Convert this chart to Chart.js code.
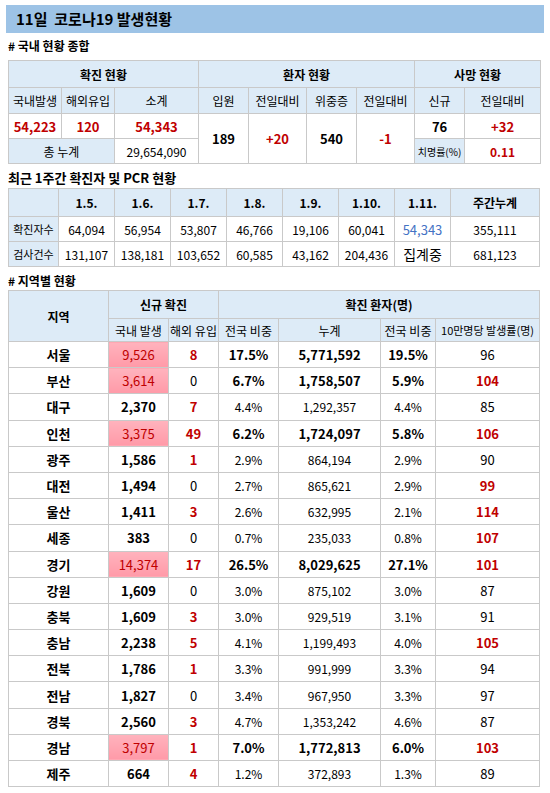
<!DOCTYPE html>
<html><head><meta charset="utf-8">
<script src="https://cdn.jsdelivr.net/npm/chart.js@4/dist/chart.umd.min.js"></script>
<style>
body{margin:0;width:550px;height:793px;background:#fff;font-family:"Noto Sans CJK KR","Noto Sans",sans-serif;font-size:12px;color:#000;overflow:hidden;position:relative}
.title{position:absolute;left:6px;top:5px;width:538px;height:28px;background:#9dc3e6;font-weight:bold;font-size:15px;line-height:28px;padding-left:10px;box-sizing:border-box}
.sec{position:absolute;left:8px;font-size:12px;font-weight:bold}
table{position:absolute;left:8px;border-collapse:collapse;table-layout:fixed}
td{border:1px solid #c9c9c9;text-align:center;padding:0;white-space:nowrap;overflow:hidden}
.h{background:#ddebf7;font-weight:bold}
.h2{background:#ddebf7}
.r{color:#c00000;font-weight:bold}
.b{font-weight:bold}
.bl{color:#4472c4;font-size:13px}
.pk{background:linear-gradient(#ffb3bd,#ff9aa8);color:#c00000}
#chartWrap{position:absolute;left:0;top:0;width:1px;height:1px;opacity:0}
</style></head><body>
<div class="title">11일 &nbsp;코로나19 발생현황</div>
<div class="sec" style="top:37px">#&nbsp;국내 현황 종합</div>
<table id="t1" style="top:60px;width:532px"></table>
<div class="sec" style="top:168px;font-size:13px">최근 1주간 확진자 및 PCR 현황</div>
<table id="t2" style="top:188px;width:532px"></table>
<div class="sec" style="top:272px">#&nbsp;지역별 현황</div>
<table id="t3" style="top:290px;width:532px"></table>
<div id="chartWrap"><canvas id="c"></canvas></div>
<script>
const weekDates=["1.5.","1.6.","1.7.","1.8.","1.9.","1.10.","1.11."];
const weekConfirmed=["64,094","56,954","53,807","46,766","19,106","60,041","54,343"];
const weekTests=["131,107","138,181","103,652","60,585","43,162","204,436","집계중"];
const weekTotals=["355,111","681,123"];
const regions=["서울","부산","대구","인천","광주","대전","울산","세종","경기","강원","충북","충남","전북","전남","경북","경남","제주"];
const localCases=[9526,3614,2370,3375,1586,1494,1411,383,14374,1609,1609,2238,1786,1827,2560,3797,664];
const importCases=[8,0,7,49,1,0,3,0,17,0,3,5,1,0,3,1,4];
const shareNew=["17.5%","6.7%","4.4%","6.2%","2.9%","2.7%","2.6%","0.7%","26.5%","3.0%","3.0%","4.1%","3.3%","3.4%","4.7%","7.0%","1.2%"];
const cumulative=[5771592,1758507,1292357,1724097,864194,865621,632995,235033,8029625,875102,929519,1199493,991999,967950,1353242,1772813,372893];
const shareCum=["19.5%","5.9%","4.4%","5.8%","2.9%","2.9%","2.1%","0.8%","27.1%","3.0%","3.1%","4.0%","3.3%","3.3%","4.6%","6.0%","1.3%"];
const per100k=[96,104,85,106,90,99,114,107,101,87,91,105,94,97,87,103,89];
const fmt=n=>n.toLocaleString('en-US');

document.getElementById('t1').innerHTML=`
<colgroup><col style="width:53px"><col style="width:53px"><col style="width:84px"><col style="width:50px"><col style="width:58px"><col style="width:50px"><col style="width:58px"><col style="width:50px"><col style="width:76px"></colgroup>
<tr style="height:27px"><td class="h" colspan="3">확진 현황</td><td class="h" colspan="4">환자 현황</td><td class="h" colspan="2">사망 현황</td></tr>
<tr style="height:26px"><td class="h2">국내발생</td><td class="h2">해외유입</td><td class="h2">소계</td><td class="h2" rowspan="1">입원</td><td class="h2">전일대비</td><td class="h2">위중증</td><td class="h2">전일대비</td><td class="h2">신규</td><td class="h2">전일대비</td></tr>
<tr style="height:25px"><td class="r" style="font-size:13px">54,223</td><td class="r" style="font-size:13px">120</td><td class="r" style="font-size:13px">54,343</td><td class="b" rowspan="2" style="font-size:13px">189</td><td class="r" rowspan="2" style="font-size:13px">+20</td><td class="b" rowspan="2" style="font-size:13px">540</td><td class="r" rowspan="2" style="font-size:13px">-1</td><td class="b" style="font-size:13px">76</td><td class="r" style="font-size:13px">+32</td></tr>
<tr style="height:25px"><td class="h2" colspan="2">총 누계</td><td>29,654,090</td><td class="h2" style="font-size:10px">치명률(%)</td><td class="r">0.11</td></tr>`;

let t2='<colgroup><col style="width:50px">'+'<col style="width:56px">'.repeat(7)+'<col>'+'</colgroup>';
t2+='<tr style="height:28px"><td class="h"></td>'+weekDates.map(d=>`<td class="h">${d}</td>`).join('')+'<td class="h">주간누계</td></tr>';
t2+='<tr style="height:25px"><td class="h2" style="font-size:11px">확진자수</td>'+weekConfirmed.map((v,i)=>`<td${i==6?' class="bl"':''}>${v}</td>`).join('')+`<td>${weekTotals[0]}</td></tr>`;
t2+='<tr style="height:25px"><td class="h2" style="font-size:11px">검사건수</td>'+weekTests.map((v,i)=>`<td${i==6?' style="font-size:14px"':''}>${v}</td>`).join('')+`<td>${weekTotals[1]}</td></tr>`;
document.getElementById('t2').innerHTML=t2;

let t3='<colgroup><col style="width:100px"><col style="width:60px"><col style="width:50px"><col style="width:60px"><col style="width:102px"><col style="width:55px"><col></colgroup>';
t3+='<tr style="height:28px"><td class="h" rowspan="2" style="background:#ddebf7">지역</td><td class="h" colspan="2">신규 확진</td><td class="h" colspan="4">확진 환자(명)</td></tr>';
t3+='<tr style="height:23px"><td class="h2">국내 발생</td><td class="h2">해외 유입</td><td class="h2">전국 비중</td><td class="h2">누계</td><td class="h2">전국 비중</td><td class="h2" style="font-size:11px">10만명당 발생률(명)</td></tr>';
regions.forEach((r,i)=>{
  const big=localCases[i]>3000;
  const bold=parseFloat(shareNew[i])>=5;
  t3+=`<tr style="height:26.2px"><td class="b" style="font-size:13px">${r}</td>`+
  `<td class="${big?'pk':'b'}" style="font-size:13px">${fmt(localCases[i])}</td>`+
  `<td class="${importCases[i]>0?'r':''}" style="font-size:13px">${importCases[i]}</td>`+
  `<td class="${bold?'b':''}" style="font-size:${bold?13:12}px">${shareNew[i]}</td>`+
  `<td class="${bold?'b':''}" style="font-size:${bold?13:12}px">${fmt(cumulative[i])}</td>`+
  `<td class="${bold?'b':''}" style="font-size:${bold?13:12}px">${shareCum[i]}</td>`+
  `<td class="${per100k[i]>=99?'r':''}" style="font-size:13px">${per100k[i]}</td></tr>`;
});
document.getElementById('t3').innerHTML=t3;

new Chart(document.getElementById('c'),{type:'bar',data:{labels:regions,datasets:[{data:localCases}]},options:{animation:false,responsive:false,plugins:{legend:{display:false}}}});
</script>
</body></html>
